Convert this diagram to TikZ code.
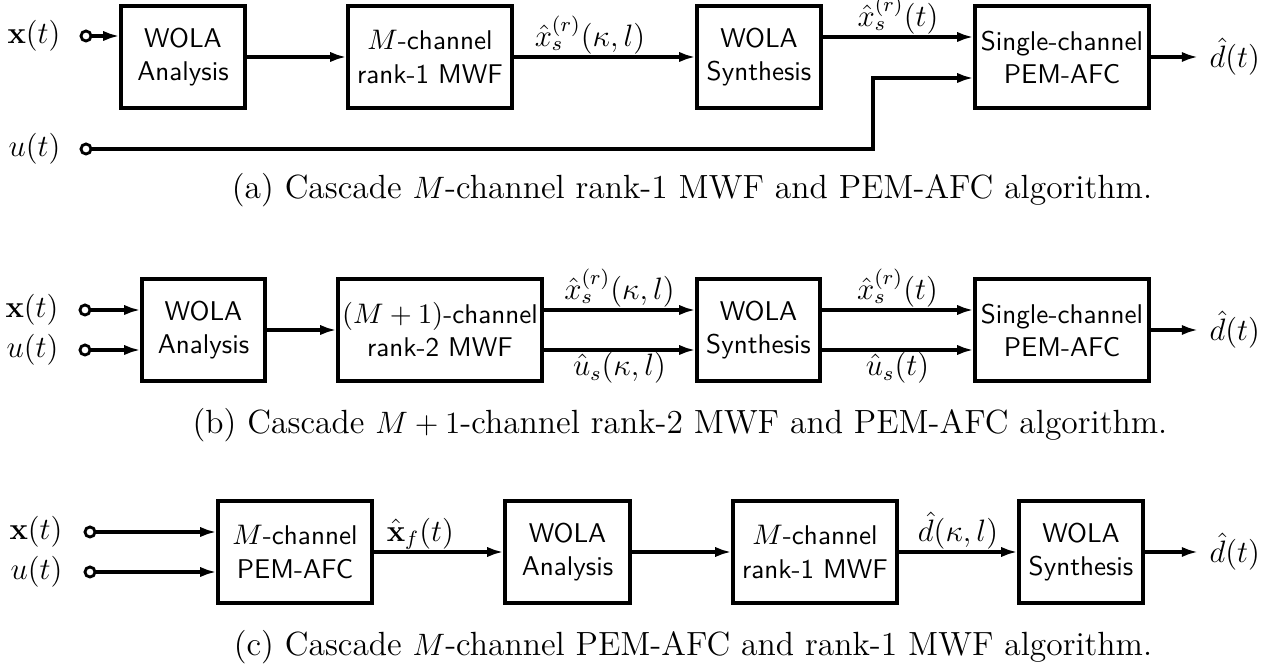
\documentclass[tikz,border=0pt]{standalone}
\usepackage{amsmath}
\usetikzlibrary{arrows.meta,calc}
\begin{document}
\begin{tikzpicture}[x=0.3876pt,y=-0.3876pt,
  blk/.style 2 args={draw,line width=1.2pt,minimum width=#1*0.3876pt,minimum height=#2*0.3876pt,inner sep=0pt,align=center,font=\sffamily\fontsize{10.5}{12.8}\selectfont},
  sig/.style={line width=1.2pt,-{Latex[length=6.3pt,width=4pt]}},
  term/.style={circle,draw,line width=1.1pt,minimum size=3.9pt,inner sep=0pt,fill=white},
  lbl/.style={font=\fontsize{12}{14}\selectfont,inner sep=0pt},
  clbl/.style={font=\fontsize{12}{14}\selectfont,inner sep=0.3pt},
  captxt/.style={font=\fontsize{13}{15}\selectfont,inner sep=0pt}]
\useasboundingbox (0,0) rectangle (1273,665);
% ---------- (a)
\node[blk={124}{102}] (waA) at (183,57) {WOLA\\Analysis};
\node[blk={164}{102}] (mwfA) at (430,57) {$M$-channel\\rank-1 MWF};
\node[blk={124}{102}] (wsA) at (759,57) {WOLA\\Synthesis};
\node[blk={174}{102}] (pemA) at (1062,57) {Single-channel\\PEM-AFC};
\node[term] (xA) at (86,36) {};
\node[term] (uA) at (86,149) {};
\node[lbl,anchor=east] (xAl) at (61,36) {$\mathbf{x}(t)$};
\node[lbl,anchor=east] (uAl) at (61,149) {$u(t)$};
\coordinate (kA) at (873,149);
\coordinate (oA) at (1198,57);
\node[lbl,anchor=west] (dA) at (1209,57) {$\hat{d}(t)$};
\draw[sig] (xA) -- (xA -| waA.west);
\draw[sig] (waA) -- (mwfA);
\draw[sig] (mwfA) -- node[clbl,above,pos=0.42] {$\hat{x}_s^{(r)}(\kappa,l)$} (wsA);
\draw[sig] ([yshift=20*0.3876pt]wsA.east) -- node[clbl,above] {$\hat{x}_s^{(r)}(t)$} ([yshift=20*0.3876pt]pemA.west);
\draw[sig] (uA) -- (kA) |- ([yshift=-21*0.3876pt]pemA.west);
\draw[sig] (pemA) -- (oA);
\node[captxt] (capA) at (692,190) {(a) Cascade $M$-channel rank-1 MWF and PEM-AFC algorithm.};
% ---------- (b)
\node[blk={123}{102}] (waB) at (203.5,330) {WOLA\\Analysis};
\node[blk={204}{102}] (mwfB) at (440,330) {$(M+1)$-channel\\rank-2 MWF};
\node[blk={123}{102}] (wsB) at (758.5,330) {WOLA\\Synthesis};
\node[blk={174}{102}] (pemB) at (1062,330) {Single-channel\\PEM-AFC};
\node[term] (xB) at (85,310) {};
\node[term] (uB) at (85,350) {};
\node[lbl,anchor=east] (xBl) at (59,310) {$\mathbf{x}(t)$};
\node[lbl,anchor=east] (uBl) at (59,350) {$u(t)$};
\coordinate (oB) at (1198,330);
\node[lbl,anchor=west] (dB) at (1209,330) {$\hat{d}(t)$};
\draw[sig] (xB) -- (xB -| waB.west);
\draw[sig] (uB) -- (uB -| waB.west);
\draw[sig] (waB) -- (mwfB);
\draw[sig] ([yshift=20*0.3876pt]mwfB.east) -- node[clbl,above] {$\hat{x}_s^{(r)}(\kappa,l)$} ([yshift=20*0.3876pt]wsB.west);
\draw[sig] ([yshift=-20*0.3876pt]mwfB.east) -- node[clbl,below] {$\hat{u}_s(\kappa,l)$} ([yshift=-20*0.3876pt]wsB.west);
\draw[sig] ([yshift=20*0.3876pt]wsB.east) -- node[clbl,above] {$\hat{x}_s^{(r)}(t)$} ([yshift=20*0.3876pt]pemB.west);
\draw[sig] ([yshift=-20*0.3876pt]wsB.east) -- node[clbl,below] {$\hat{u}_s(t)$} ([yshift=-20*0.3876pt]pemB.west);
\draw[sig] (pemB) -- (oB);
\node[captxt] (capB) at (680,425) {(b) Cascade $M+1$-channel rank-2 MWF and PEM-AFC algorithm.};
% ---------- (c)
\node[blk={154}{102}] (pemC) at (295,552) {$M$-channel\\PEM-AFC};
\node[blk={125}{102}] (waC) at (567.5,552) {WOLA\\Analysis};
\node[blk={164}{102}] (mwfC) at (815,552) {$M$-channel\\rank-1 MWF};
\node[blk={124}{102}] (wsC) at (1081,552) {WOLA\\Synthesis};
\node[term] (xC) at (90,532) {};
\node[term] (uC) at (90,572) {};
\node[lbl,anchor=east] (xCl) at (63,532) {$\mathbf{x}(t)$};
\node[lbl,anchor=east] (uCl) at (63,572) {$u(t)$};
\coordinate (oC) at (1198,552);
\node[lbl,anchor=west] (dC) at (1209,552) {$\hat{d}(t)$};
\draw[sig] (xC) -- (xC -| pemC.west);
\draw[sig] (uC) -- (uC -| pemC.west);
\draw[sig] (pemC) -- node[clbl,above,pos=0.36] {$\hat{\mathbf{x}}_f(t)$} (waC);
\draw[sig] (waC) -- (mwfC);
\draw[sig] (mwfC) -- node[clbl,above] {$\hat{d}(\kappa,l)$} (wsC);
\draw[sig] (wsC) -- (oC);
\node[captxt] (capC) at (693,647) {(c) Cascade $M$-channel PEM-AFC and rank-1 MWF algorithm.};
\end{tikzpicture}
\end{document}
